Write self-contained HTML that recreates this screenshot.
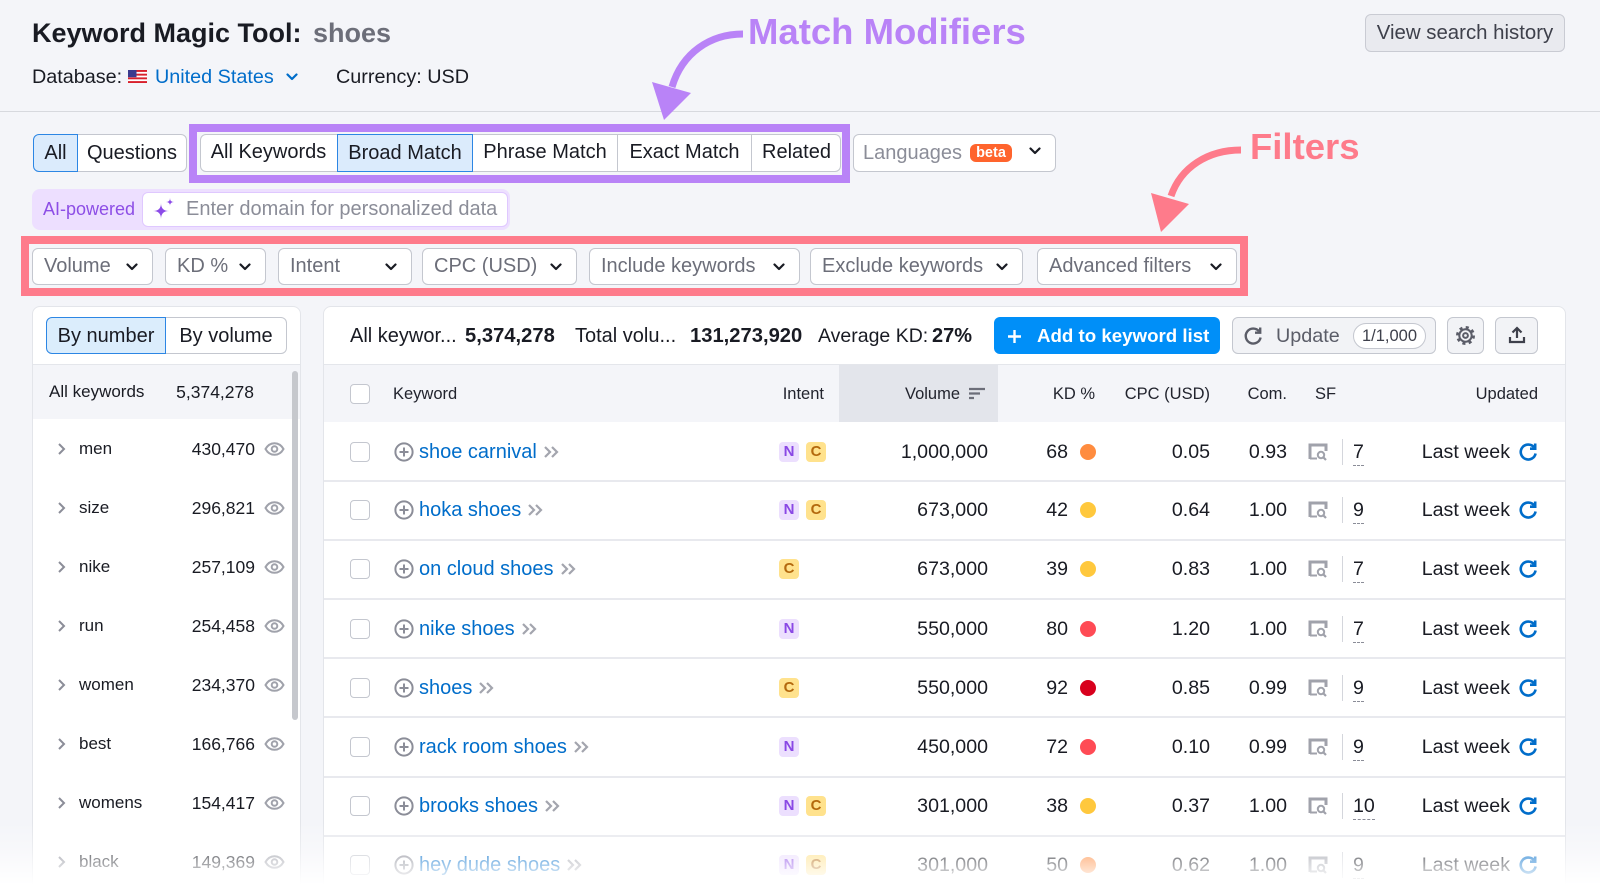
<!DOCTYPE html>
<html><head><meta charset="utf-8"><title>Keyword Magic Tool</title>
<style>
*{box-sizing:border-box;margin:0;padding:0}
html,body{width:1600px;height:892px;overflow:hidden}
body{position:relative;background:#f4f5f9;font-family:"Liberation Sans",Arial,sans-serif;color:#191b23}
.a{position:absolute;white-space:nowrap}
.t{position:absolute;white-space:nowrap;height:30px;line-height:30px}
.r{text-align:right}
.f{position:absolute;top:248px;height:37px;background:#fff;border:1px solid #c4c7cf;border-radius:6px;font-size:20px;color:#6c6e79;line-height:35px;padding-left:11px;white-space:nowrap}
.f svg{position:absolute;right:14px;top:14px}
.seg{position:absolute;top:134px;height:38px;line-height:36px;font-size:20px;text-align:center;white-space:nowrap}
.row{position:absolute;left:0;width:1600px;height:60px;font-size:19.6px}
.lrow{position:absolute;left:0;width:310px;height:60px}
.cb{position:absolute;left:350px;top:20px;width:20px;height:20px;border:1px solid #c4c7cf;border-radius:4px;background:#fff}
.pl{position:absolute;left:394px;top:20px}
.kw{left:419px;top:15px;color:#006dca;font-size:20px}
.kw svg{margin-left:6px;vertical-align:-1px}
.bd{position:absolute;top:20px;width:20px;height:20px;border-radius:4px;font-size:15px;font-weight:bold;text-align:center;line-height:20px}
.bn{background:#ecdffe;color:#8a48e5}
.bc{background:#ffe28d;color:#b4690e}
.vol{left:868px;width:120px;top:15px}
.kd{left:1018px;width:50px;top:15px}
.dot{position:absolute;left:1080px;top:22px;width:16px;height:16px;border-radius:50%}
.cpc{left:1140px;width:70px;top:15px}
.com{left:1217px;width:70px;top:15px}
.sfi{position:absolute;left:1308px;top:21px}
.sep{position:absolute;left:1342px;top:17px;width:1px;height:26px;background:#d4d6dc}
.sfn{position:absolute;left:1353px;top:18px;height:26px;line-height:24px;border-bottom:1px dashed #8b8d98}
.lw{left:1390px;width:120px;top:15px}
.rf{position:absolute;left:1518px;top:20px}
.hl{position:absolute;left:324px;width:1241px;height:2px;background:#e8e9ee}
.lch{position:absolute;left:57px;top:23px}
.llab{left:79px;top:15px;font-size:17px}
.lnum{left:145px;width:110px;top:15px;font-size:17.5px}
.eye{position:absolute;left:264px;top:23px}
.hd{position:absolute;top:379px;height:30px;line-height:30px;font-size:16.5px;white-space:nowrap;color:#22242e}
</style></head><body>

<!-- Header -->
<div class="a" style="left:32px;top:13px;height:40px;line-height:40px;font-size:27px;font-weight:bold;">Keyword Magic Tool:</div>
<div class="a" style="left:313px;top:13px;height:40px;line-height:40px;font-size:27px;font-weight:bold;color:#6c6e79;">shoes</div>

<div class="t" style="left:32px;top:62px;font-size:19.8px;">Database:</div>
<svg class="a" style="left:128px;top:70px" width="19" height="13" viewBox="0 0 19 13">
<rect width="19" height="13" fill="#fff"/>
<rect y="0" width="19" height="1.9" fill="#d8202c"/><rect y="3.7" width="19" height="1.9" fill="#d8202c"/><rect y="7.4" width="19" height="1.9" fill="#d8202c"/><rect y="11.1" width="19" height="1.9" fill="#d8202c"/>
<rect width="8.5" height="7.2" fill="#3c3b8e"/></svg>
<div class="t" style="left:155px;top:62px;font-size:19.8px;color:#006dca;">United States</div>
<svg class="a" style="left:286px;top:73px" width="12" height="8" viewBox="0 0 12 8"><path d="M1.5 1.5 L6 6 L10.5 1.5" fill="none" stroke="#006dca" stroke-width="2.2" stroke-linecap="round" stroke-linejoin="round"/></svg>
<div class="t" style="left:336px;top:62px;font-size:19.8px;">Currency: USD</div>

<div class="a" style="left:1365px;top:14px;width:200px;height:38px;background:#e9eaef;border:1px solid #c9cbd3;border-radius:6px;text-align:center;line-height:36px;font-size:20.4px;color:#3e404b;">View search history</div>

<div class="a" style="left:0;top:111px;width:1600px;height:1px;background:#d7d9de;"></div>

<!-- Tabs row -->
<div class="seg" style="left:33px;width:45px;background:#dbebfc;border:1px solid #2c86e4;border-radius:6px 0 0 6px;">All</div>
<div class="seg" style="left:78px;width:109px;background:#fff;border:1px solid #c4c7cf;border-left:none;border-radius:0 6px 6px 0;">Questions</div>

<div class="a" style="left:189px;top:124px;width:661px;height:59px;border:8px solid #b983f7;"></div>
<div class="seg" style="left:200px;width:641px;background:#fff;border:1px solid #c4c7cf;border-radius:6px;"></div>
<div class="seg" style="left:200px;width:137px;">All Keywords</div>
<div class="seg" style="left:337px;width:136px;background:#dbebfc;border:1px solid #2c86e4;">Broad Match</div>
<div class="seg" style="left:473px;width:144px;">Phrase Match</div>
<div class="a" style="left:617px;top:135px;width:1px;height:36px;background:#c4c7cf;"></div>
<div class="seg" style="left:618px;width:133px;">Exact Match</div>
<div class="a" style="left:751px;top:135px;width:1px;height:36px;background:#c4c7cf;"></div>
<div class="seg" style="left:752px;width:89px;">Related</div>

<div class="seg" style="left:853px;width:203px;background:#fff;border:1px solid #c4c7cf;border-radius:6px;"></div>
<div class="t" style="left:863px;top:138px;font-size:20px;color:#8b8d98;">Languages</div>
<div class="a" style="left:970px;top:144px;width:42px;height:18px;background:#ff642d;border-radius:6px;color:#fff;font-weight:bold;font-size:14.5px;line-height:18px;text-align:center;">beta</div>
<svg class="a" style="left:1029px;top:147px" width="12" height="8" viewBox="0 0 12 8"><path d="M1.5 1.5 L6 6 L10.5 1.5" fill="none" stroke="#191b23" stroke-width="2.2" stroke-linecap="round" stroke-linejoin="round"/></svg>

<!-- AI row -->
<div class="a" style="left:32px;top:189px;width:478px;height:41px;background:#eddfff;border-radius:8px;"></div>
<div class="t" style="left:43px;top:194px;font-size:18px;color:#8d4ee6;">AI-powered</div>
<div class="a" style="left:142px;top:192px;width:366px;height:35px;background:#fff;border:1px solid #dfc8ff;border-radius:6px;"></div>
<svg class="a" style="left:152px;top:197px" width="24" height="24" viewBox="0 0 24 24">
<path d="M9 6 Q9 14 17 14 Q9 14 9 22 Q9 14 1 14 Q9 14 9 6Z" fill="#8c4be8"/>
<path d="M18 1 Q18 5 22 5 Q18 5 18 9 Q18 5 14 5 Q18 5 18 1Z" fill="#8c4be8"/></svg>
<div class="t" style="left:186px;top:194px;font-size:20px;color:#8b8d98;">Enter domain for personalized data</div>

<!-- Filters -->
<div class="a" style="left:21px;top:236px;width:1227px;height:60px;border:8px solid #fe7b8b;"></div>
<div class="f" style="left:32px;width:121px;">Volume<svg width="12" height="8" viewBox="0 0 12 8"><path d="M1.5 1.5 L6 6 L10.5 1.5" fill="none" stroke="#191b23" stroke-width="2.2" stroke-linecap="round" stroke-linejoin="round"/></svg></div>
<div class="f" style="left:165px;width:101px;">KD %<svg width="12" height="8" viewBox="0 0 12 8"><path d="M1.5 1.5 L6 6 L10.5 1.5" fill="none" stroke="#191b23" stroke-width="2.2" stroke-linecap="round" stroke-linejoin="round"/></svg></div>
<div class="f" style="left:278px;width:134px;">Intent<svg width="12" height="8" viewBox="0 0 12 8"><path d="M1.5 1.5 L6 6 L10.5 1.5" fill="none" stroke="#191b23" stroke-width="2.2" stroke-linecap="round" stroke-linejoin="round"/></svg></div>
<div class="f" style="left:422px;width:155px;">CPC (USD)<svg width="12" height="8" viewBox="0 0 12 8"><path d="M1.5 1.5 L6 6 L10.5 1.5" fill="none" stroke="#191b23" stroke-width="2.2" stroke-linecap="round" stroke-linejoin="round"/></svg></div>
<div class="f" style="left:589px;width:211px;">Include keywords<svg width="12" height="8" viewBox="0 0 12 8"><path d="M1.5 1.5 L6 6 L10.5 1.5" fill="none" stroke="#191b23" stroke-width="2.2" stroke-linecap="round" stroke-linejoin="round"/></svg></div>
<div class="f" style="left:810px;width:213px;">Exclude keywords<svg width="12" height="8" viewBox="0 0 12 8"><path d="M1.5 1.5 L6 6 L10.5 1.5" fill="none" stroke="#191b23" stroke-width="2.2" stroke-linecap="round" stroke-linejoin="round"/></svg></div>
<div class="f" style="left:1037px;width:200px;">Advanced filters<svg width="12" height="8" viewBox="0 0 12 8"><path d="M1.5 1.5 L6 6 L10.5 1.5" fill="none" stroke="#191b23" stroke-width="2.2" stroke-linecap="round" stroke-linejoin="round"/></svg></div>

<!-- Annotations -->
<div class="a" style="left:748px;top:12px;height:40px;line-height:40px;font-size:36.5px;font-weight:bold;color:#b983f7;">Match Modifiers</div>
<div class="a" style="left:1250px;top:127px;height:40px;line-height:40px;font-size:36.5px;font-weight:bold;color:#fe7b8b;">Filters</div>
<svg class="a" style="left:0;top:0" width="1600" height="300" viewBox="0 0 1600 300">
<path d="M743 34 C710 34 682 53 672 87" fill="none" stroke="#b983f7" stroke-width="7"/>
<path d="M652 82 L691 93 L664 120 Z" fill="#b983f7"/>
<path d="M1241 150 C1208 150 1181 167 1171 196" fill="none" stroke="#fe7b8b" stroke-width="7"/>
<path d="M1151 193 L1189 204 L1161 232 Z" fill="#fe7b8b"/>
</svg>

<!-- Left panel -->
<div class="a" style="left:32px;top:306px;width:269px;height:620px;background:#fff;border:1px solid #e3e5ea;border-radius:8px;"></div>
<div class="seg" style="left:46px;top:317px;width:120px;height:37px;line-height:36px;background:#dbedfc;border:1px solid #2c86e4;border-radius:6px 0 0 6px;">By number</div>
<div class="seg" style="left:166px;top:317px;width:121px;height:37px;line-height:36px;background:#fff;border:1px solid #c4c7cf;border-left:none;border-radius:0 6px 6px 0;">By volume</div>
<div class="a" style="left:33px;top:364px;width:267px;height:55px;background:#f4f5f9;border-top:1px solid #e4e6eb;"></div>
<div class="t" style="left:49px;top:377px;font-size:17px;">All keywords</div>
<div class="t r" style="left:144px;width:110px;top:377px;font-size:17.5px;">5,374,278</div>
<div class="a" style="left:292px;top:371px;width:6px;height:349px;background:#c6c8cd;border-radius:4px;"></div>

<div class="lrow" style="top:419px;"><svg class="lch" width="9" height="14" viewBox="0 0 9 14"><path d="M2 2l5 5-5 5" fill="none" stroke="#8b8d98" stroke-width="2"/></svg><div class="t llab">men</div><div class="t r lnum">430,470</div><svg class="eye" width="21" height="14" viewBox="0 0 21 14"><path d="M1.5 7C4 2.5 7 1.2 10.5 1.2S17 2.5 19.5 7C17 11.5 14 12.8 10.5 12.8S4 11.5 1.5 7Z" fill="none" stroke="#a0a2ab" stroke-width="2"/><circle cx="10.5" cy="7" r="2.8" fill="none" stroke="#a0a2ab" stroke-width="2"/></svg></div>
<div class="lrow" style="top:478px;"><svg class="lch" width="9" height="14" viewBox="0 0 9 14"><path d="M2 2l5 5-5 5" fill="none" stroke="#8b8d98" stroke-width="2"/></svg><div class="t llab">size</div><div class="t r lnum">296,821</div><svg class="eye" width="21" height="14" viewBox="0 0 21 14"><path d="M1.5 7C4 2.5 7 1.2 10.5 1.2S17 2.5 19.5 7C17 11.5 14 12.8 10.5 12.8S4 11.5 1.5 7Z" fill="none" stroke="#a0a2ab" stroke-width="2"/><circle cx="10.5" cy="7" r="2.8" fill="none" stroke="#a0a2ab" stroke-width="2"/></svg></div>
<div class="lrow" style="top:537px;"><svg class="lch" width="9" height="14" viewBox="0 0 9 14"><path d="M2 2l5 5-5 5" fill="none" stroke="#8b8d98" stroke-width="2"/></svg><div class="t llab">nike</div><div class="t r lnum">257,109</div><svg class="eye" width="21" height="14" viewBox="0 0 21 14"><path d="M1.5 7C4 2.5 7 1.2 10.5 1.2S17 2.5 19.5 7C17 11.5 14 12.8 10.5 12.8S4 11.5 1.5 7Z" fill="none" stroke="#a0a2ab" stroke-width="2"/><circle cx="10.5" cy="7" r="2.8" fill="none" stroke="#a0a2ab" stroke-width="2"/></svg></div>
<div class="lrow" style="top:596px;"><svg class="lch" width="9" height="14" viewBox="0 0 9 14"><path d="M2 2l5 5-5 5" fill="none" stroke="#8b8d98" stroke-width="2"/></svg><div class="t llab">run</div><div class="t r lnum">254,458</div><svg class="eye" width="21" height="14" viewBox="0 0 21 14"><path d="M1.5 7C4 2.5 7 1.2 10.5 1.2S17 2.5 19.5 7C17 11.5 14 12.8 10.5 12.8S4 11.5 1.5 7Z" fill="none" stroke="#a0a2ab" stroke-width="2"/><circle cx="10.5" cy="7" r="2.8" fill="none" stroke="#a0a2ab" stroke-width="2"/></svg></div>
<div class="lrow" style="top:655px;"><svg class="lch" width="9" height="14" viewBox="0 0 9 14"><path d="M2 2l5 5-5 5" fill="none" stroke="#8b8d98" stroke-width="2"/></svg><div class="t llab">women</div><div class="t r lnum">234,370</div><svg class="eye" width="21" height="14" viewBox="0 0 21 14"><path d="M1.5 7C4 2.5 7 1.2 10.5 1.2S17 2.5 19.5 7C17 11.5 14 12.8 10.5 12.8S4 11.5 1.5 7Z" fill="none" stroke="#a0a2ab" stroke-width="2"/><circle cx="10.5" cy="7" r="2.8" fill="none" stroke="#a0a2ab" stroke-width="2"/></svg></div>
<div class="lrow" style="top:714px;"><svg class="lch" width="9" height="14" viewBox="0 0 9 14"><path d="M2 2l5 5-5 5" fill="none" stroke="#8b8d98" stroke-width="2"/></svg><div class="t llab">best</div><div class="t r lnum">166,766</div><svg class="eye" width="21" height="14" viewBox="0 0 21 14"><path d="M1.5 7C4 2.5 7 1.2 10.5 1.2S17 2.5 19.5 7C17 11.5 14 12.8 10.5 12.8S4 11.5 1.5 7Z" fill="none" stroke="#a0a2ab" stroke-width="2"/><circle cx="10.5" cy="7" r="2.8" fill="none" stroke="#a0a2ab" stroke-width="2"/></svg></div>
<div class="lrow" style="top:773px;"><svg class="lch" width="9" height="14" viewBox="0 0 9 14"><path d="M2 2l5 5-5 5" fill="none" stroke="#8b8d98" stroke-width="2"/></svg><div class="t llab">womens</div><div class="t r lnum">154,417</div><svg class="eye" width="21" height="14" viewBox="0 0 21 14"><path d="M1.5 7C4 2.5 7 1.2 10.5 1.2S17 2.5 19.5 7C17 11.5 14 12.8 10.5 12.8S4 11.5 1.5 7Z" fill="none" stroke="#a0a2ab" stroke-width="2"/><circle cx="10.5" cy="7" r="2.8" fill="none" stroke="#a0a2ab" stroke-width="2"/></svg></div>
<div class="lrow" style="top:832px;"><svg class="lch" width="9" height="14" viewBox="0 0 9 14"><path d="M2 2l5 5-5 5" fill="none" stroke="#8b8d98" stroke-width="2"/></svg><div class="t llab">black</div><div class="t r lnum">149,369</div><svg class="eye" width="21" height="14" viewBox="0 0 21 14"><path d="M1.5 7C4 2.5 7 1.2 10.5 1.2S17 2.5 19.5 7C17 11.5 14 12.8 10.5 12.8S4 11.5 1.5 7Z" fill="none" stroke="#a0a2ab" stroke-width="2"/><circle cx="10.5" cy="7" r="2.8" fill="none" stroke="#a0a2ab" stroke-width="2"/></svg></div>

<!-- Right panel -->
<div class="a" style="left:323px;top:306px;width:1243px;height:620px;background:#fff;border:1px solid #e3e5ea;border-radius:8px;"></div>
<div class="t" style="left:350px;top:321px;font-size:20px;">All keywor...</div>
<div class="t" style="left:465px;top:321px;font-size:20.2px;font-weight:bold;">5,374,278</div>
<div class="t" style="left:575px;top:321px;font-size:20px;">Total volu...</div>
<div class="t" style="left:690px;top:321px;font-size:20.2px;font-weight:bold;">131,273,920</div>
<div class="t" style="left:818px;top:321px;font-size:19.5px;">Average KD:</div>
<div class="t" style="left:932px;top:321px;font-size:20px;font-weight:bold;">27%</div>

<div class="a" style="left:994px;top:317px;width:226px;height:37px;background:#008ff8;border-radius:6px;"></div>
<svg class="a" style="left:1007px;top:329px" width="15" height="15" viewBox="0 0 15 15"><path d="M7.5 1v13M1 7.5h13" stroke="#fff" stroke-width="2.4"/></svg>
<div class="t" style="left:1037px;top:321px;font-size:18.7px;font-weight:bold;color:#fff;">Add to keyword list</div>

<div class="a" style="left:1232px;top:317px;width:204px;height:37px;background:#f2f3f6;border:1px solid #c4c7cf;border-radius:6px;"></div>
<svg class="a" style="left:1243px;top:326px" width="20" height="20" viewBox="0 0 20 20"><path d="M16 5.2A7.5 7.5 0 1 0 17.6 11.5" fill="none" stroke="#5b5d68" stroke-width="2.4"/><path d="M17.2 1.5v5.2h-5.2" fill="none" stroke="#5b5d68" stroke-width="2.4"/></svg>
<div class="t" style="left:1276px;top:321px;font-size:19.8px;color:#5b5d68;">Update</div>
<div class="a" style="left:1353px;top:323px;width:73px;height:26px;background:#fff;border:1px solid #c4c7cf;border-radius:13px;text-align:center;line-height:24px;font-size:16.5px;color:#3e404b;">1/1,000</div>

<div class="a" style="left:1447px;top:317px;width:37px;height:37px;background:#f2f3f6;border:1px solid #c4c7cf;border-radius:6px;"></div>
<svg class="a" style="left:1455px;top:325px" width="21" height="21" viewBox="0 0 21 21"><circle cx="10.5" cy="10.5" r="8" fill="none" stroke="#5b5d68" stroke-width="3" stroke-dasharray="3 3.28"/><circle cx="10.5" cy="10.5" r="6.2" fill="none" stroke="#5b5d68" stroke-width="2"/><circle cx="10.5" cy="10.5" r="2.4" fill="none" stroke="#5b5d68" stroke-width="2"/></svg>
<div class="a" style="left:1495px;top:317px;width:43px;height:37px;background:#f2f3f6;border:1px solid #c4c7cf;border-radius:6px;"></div>
<svg class="a" style="left:1507px;top:325px" width="20" height="20" viewBox="0 0 20 20"><path d="M10 13V3M5.5 7.5L10 3l4.5 4.5" fill="none" stroke="#3e404b" stroke-width="2.2"/><path d="M3 12v5h14v-5" fill="none" stroke="#3e404b" stroke-width="2.2"/></svg>

<!-- Table header -->
<div class="a" style="left:324px;top:364px;width:1241px;height:58px;background:#f4f5f9;border-top:1px solid #e4e6eb;"></div>
<div class="a" style="left:839px;top:365px;width:159px;height:57px;background:#e3e5eb;"></div>
<div class="a" style="left:350px;top:384px;width:20px;height:20px;border:1px solid #c4c7cf;border-radius:4px;background:#fff;"></div>
<div class="hd" style="left:393px;">Keyword</div>
<div class="hd r" style="left:724px;width:100px;">Intent</div>
<div class="hd" style="left:905px;">Volume</div>
<svg class="a" style="left:969px;top:387px" width="16" height="13" viewBox="0 0 16 13"><path d="M0 2h16M0 6.5h11M0 11h5" stroke="#6c6e79" stroke-width="2.2"/></svg>
<div class="hd r" style="left:995px;width:100px;">KD %</div>
<div class="hd r" style="left:1110px;width:100px;">CPC (USD)</div>
<div class="hd r" style="left:1217px;width:70px;">Com.</div>
<div class="hd" style="left:1315px;">SF</div>
<div class="hd r" style="left:1438px;width:100px;">Updated</div>

<!-- Row separators -->
<div class="hl" style="top:480px;"></div>
<div class="hl" style="top:539px;"></div>
<div class="hl" style="top:598px;"></div>
<div class="hl" style="top:657px;"></div>
<div class="hl" style="top:716px;"></div>
<div class="hl" style="top:776px;"></div>
<div class="hl" style="top:835px;"></div>

<!-- Rows -->
<div class="row" style="top:422px;"><div class="cb"></div><svg class="pl" width="20" height="20" viewBox="0 0 20 20"><circle cx="10" cy="10" r="8.6" fill="none" stroke="#8b8d98" stroke-width="2"/><path d="M10 5.5v9M5.5 10h9" stroke="#8b8d98" stroke-width="2"/></svg><div class="t kw">shoe carnival<svg width="17" height="14" viewBox="0 0 17 14"><path d="M2 2l5 5-5 5M9 2l5 5-5 5" fill="none" stroke="#a3a5ae" stroke-width="2.2"/></svg></div><div class="bd bn" style="left:779px;">N</div><div class="bd bc" style="left:806px;">C</div><div class="t r vol">1,000,000</div><div class="t r kd">68</div><div class="dot" style="background:#ff8c3f;"></div><div class="t r cpc">0.05</div><div class="t r com">0.93</div><svg class="sfi" width="20" height="18" viewBox="0 0 20 18"><path d="M2 16V2h16v6" fill="none" stroke="#a0a2ab" stroke-width="3"/><path d="M2 15.5h7" stroke="#a0a2ab" stroke-width="2"/><circle cx="13" cy="12" r="3.2" fill="none" stroke="#a0a2ab" stroke-width="2"/><path d="M15.3 14.3l2.7 2.7" stroke="#a0a2ab" stroke-width="2.2"/></svg><div class="sep"></div><div class="sfn">7</div><div class="t r lw">Last week</div><svg class="rf" width="20" height="20" viewBox="0 0 20 20"><path d="M16 5.2A7.5 7.5 0 1 0 17.6 11.5" fill="none" stroke="#006dca" stroke-width="2.6"/><path d="M17.2 1.5v5.2h-5.2" fill="none" stroke="#006dca" stroke-width="2.6"/></svg></div>

<div class="row" style="top:480px;"><div class="cb"></div><svg class="pl" width="20" height="20" viewBox="0 0 20 20"><circle cx="10" cy="10" r="8.6" fill="none" stroke="#8b8d98" stroke-width="2"/><path d="M10 5.5v9M5.5 10h9" stroke="#8b8d98" stroke-width="2"/></svg><div class="t kw">hoka shoes<svg width="17" height="14" viewBox="0 0 17 14"><path d="M2 2l5 5-5 5M9 2l5 5-5 5" fill="none" stroke="#a3a5ae" stroke-width="2.2"/></svg></div><div class="bd bn" style="left:779px;">N</div><div class="bd bc" style="left:806px;">C</div><div class="t r vol">673,000</div><div class="t r kd">42</div><div class="dot" style="background:#ffc83d;"></div><div class="t r cpc">0.64</div><div class="t r com">1.00</div><svg class="sfi" width="20" height="18" viewBox="0 0 20 18"><path d="M2 16V2h16v6" fill="none" stroke="#a0a2ab" stroke-width="3"/><path d="M2 15.5h7" stroke="#a0a2ab" stroke-width="2"/><circle cx="13" cy="12" r="3.2" fill="none" stroke="#a0a2ab" stroke-width="2"/><path d="M15.3 14.3l2.7 2.7" stroke="#a0a2ab" stroke-width="2.2"/></svg><div class="sep"></div><div class="sfn">9</div><div class="t r lw">Last week</div><svg class="rf" width="20" height="20" viewBox="0 0 20 20"><path d="M16 5.2A7.5 7.5 0 1 0 17.6 11.5" fill="none" stroke="#006dca" stroke-width="2.6"/><path d="M17.2 1.5v5.2h-5.2" fill="none" stroke="#006dca" stroke-width="2.6"/></svg></div>

<div class="row" style="top:539px;"><div class="cb"></div><svg class="pl" width="20" height="20" viewBox="0 0 20 20"><circle cx="10" cy="10" r="8.6" fill="none" stroke="#8b8d98" stroke-width="2"/><path d="M10 5.5v9M5.5 10h9" stroke="#8b8d98" stroke-width="2"/></svg><div class="t kw">on cloud shoes<svg width="17" height="14" viewBox="0 0 17 14"><path d="M2 2l5 5-5 5M9 2l5 5-5 5" fill="none" stroke="#a3a5ae" stroke-width="2.2"/></svg></div><div class="bd bc" style="left:779px;">C</div><div class="t r vol">673,000</div><div class="t r kd">39</div><div class="dot" style="background:#ffc83d;"></div><div class="t r cpc">0.83</div><div class="t r com">1.00</div><svg class="sfi" width="20" height="18" viewBox="0 0 20 18"><path d="M2 16V2h16v6" fill="none" stroke="#a0a2ab" stroke-width="3"/><path d="M2 15.5h7" stroke="#a0a2ab" stroke-width="2"/><circle cx="13" cy="12" r="3.2" fill="none" stroke="#a0a2ab" stroke-width="2"/><path d="M15.3 14.3l2.7 2.7" stroke="#a0a2ab" stroke-width="2.2"/></svg><div class="sep"></div><div class="sfn">7</div><div class="t r lw">Last week</div><svg class="rf" width="20" height="20" viewBox="0 0 20 20"><path d="M16 5.2A7.5 7.5 0 1 0 17.6 11.5" fill="none" stroke="#006dca" stroke-width="2.6"/><path d="M17.2 1.5v5.2h-5.2" fill="none" stroke="#006dca" stroke-width="2.6"/></svg></div>

<div class="row" style="top:599px;"><div class="cb"></div><svg class="pl" width="20" height="20" viewBox="0 0 20 20"><circle cx="10" cy="10" r="8.6" fill="none" stroke="#8b8d98" stroke-width="2"/><path d="M10 5.5v9M5.5 10h9" stroke="#8b8d98" stroke-width="2"/></svg><div class="t kw">nike shoes<svg width="17" height="14" viewBox="0 0 17 14"><path d="M2 2l5 5-5 5M9 2l5 5-5 5" fill="none" stroke="#a3a5ae" stroke-width="2.2"/></svg></div><div class="bd bn" style="left:779px;">N</div><div class="t r vol">550,000</div><div class="t r kd">80</div><div class="dot" style="background:#ff4b55;"></div><div class="t r cpc">1.20</div><div class="t r com">1.00</div><svg class="sfi" width="20" height="18" viewBox="0 0 20 18"><path d="M2 16V2h16v6" fill="none" stroke="#a0a2ab" stroke-width="3"/><path d="M2 15.5h7" stroke="#a0a2ab" stroke-width="2"/><circle cx="13" cy="12" r="3.2" fill="none" stroke="#a0a2ab" stroke-width="2"/><path d="M15.3 14.3l2.7 2.7" stroke="#a0a2ab" stroke-width="2.2"/></svg><div class="sep"></div><div class="sfn">7</div><div class="t r lw">Last week</div><svg class="rf" width="20" height="20" viewBox="0 0 20 20"><path d="M16 5.2A7.5 7.5 0 1 0 17.6 11.5" fill="none" stroke="#006dca" stroke-width="2.6"/><path d="M17.2 1.5v5.2h-5.2" fill="none" stroke="#006dca" stroke-width="2.6"/></svg></div>

<div class="row" style="top:658px;"><div class="cb"></div><svg class="pl" width="20" height="20" viewBox="0 0 20 20"><circle cx="10" cy="10" r="8.6" fill="none" stroke="#8b8d98" stroke-width="2"/><path d="M10 5.5v9M5.5 10h9" stroke="#8b8d98" stroke-width="2"/></svg><div class="t kw">shoes<svg width="17" height="14" viewBox="0 0 17 14"><path d="M2 2l5 5-5 5M9 2l5 5-5 5" fill="none" stroke="#a3a5ae" stroke-width="2.2"/></svg></div><div class="bd bc" style="left:779px;">C</div><div class="t r vol">550,000</div><div class="t r kd">92</div><div class="dot" style="background:#d8001d;"></div><div class="t r cpc">0.85</div><div class="t r com">0.99</div><svg class="sfi" width="20" height="18" viewBox="0 0 20 18"><path d="M2 16V2h16v6" fill="none" stroke="#a0a2ab" stroke-width="3"/><path d="M2 15.5h7" stroke="#a0a2ab" stroke-width="2"/><circle cx="13" cy="12" r="3.2" fill="none" stroke="#a0a2ab" stroke-width="2"/><path d="M15.3 14.3l2.7 2.7" stroke="#a0a2ab" stroke-width="2.2"/></svg><div class="sep"></div><div class="sfn">9</div><div class="t r lw">Last week</div><svg class="rf" width="20" height="20" viewBox="0 0 20 20"><path d="M16 5.2A7.5 7.5 0 1 0 17.6 11.5" fill="none" stroke="#006dca" stroke-width="2.6"/><path d="M17.2 1.5v5.2h-5.2" fill="none" stroke="#006dca" stroke-width="2.6"/></svg></div>

<div class="row" style="top:717px;"><div class="cb"></div><svg class="pl" width="20" height="20" viewBox="0 0 20 20"><circle cx="10" cy="10" r="8.6" fill="none" stroke="#8b8d98" stroke-width="2"/><path d="M10 5.5v9M5.5 10h9" stroke="#8b8d98" stroke-width="2"/></svg><div class="t kw">rack room shoes<svg width="17" height="14" viewBox="0 0 17 14"><path d="M2 2l5 5-5 5M9 2l5 5-5 5" fill="none" stroke="#a3a5ae" stroke-width="2.2"/></svg></div><div class="bd bn" style="left:779px;">N</div><div class="t r vol">450,000</div><div class="t r kd">72</div><div class="dot" style="background:#ff4b55;"></div><div class="t r cpc">0.10</div><div class="t r com">0.99</div><svg class="sfi" width="20" height="18" viewBox="0 0 20 18"><path d="M2 16V2h16v6" fill="none" stroke="#a0a2ab" stroke-width="3"/><path d="M2 15.5h7" stroke="#a0a2ab" stroke-width="2"/><circle cx="13" cy="12" r="3.2" fill="none" stroke="#a0a2ab" stroke-width="2"/><path d="M15.3 14.3l2.7 2.7" stroke="#a0a2ab" stroke-width="2.2"/></svg><div class="sep"></div><div class="sfn">9</div><div class="t r lw">Last week</div><svg class="rf" width="20" height="20" viewBox="0 0 20 20"><path d="M16 5.2A7.5 7.5 0 1 0 17.6 11.5" fill="none" stroke="#006dca" stroke-width="2.6"/><path d="M17.2 1.5v5.2h-5.2" fill="none" stroke="#006dca" stroke-width="2.6"/></svg></div>

<div class="row" style="top:776px;"><div class="cb"></div><svg class="pl" width="20" height="20" viewBox="0 0 20 20"><circle cx="10" cy="10" r="8.6" fill="none" stroke="#8b8d98" stroke-width="2"/><path d="M10 5.5v9M5.5 10h9" stroke="#8b8d98" stroke-width="2"/></svg><div class="t kw">brooks shoes<svg width="17" height="14" viewBox="0 0 17 14"><path d="M2 2l5 5-5 5M9 2l5 5-5 5" fill="none" stroke="#a3a5ae" stroke-width="2.2"/></svg></div><div class="bd bn" style="left:779px;">N</div><div class="bd bc" style="left:806px;">C</div><div class="t r vol">301,000</div><div class="t r kd">38</div><div class="dot" style="background:#ffc83d;"></div><div class="t r cpc">0.37</div><div class="t r com">1.00</div><svg class="sfi" width="20" height="18" viewBox="0 0 20 18"><path d="M2 16V2h16v6" fill="none" stroke="#a0a2ab" stroke-width="3"/><path d="M2 15.5h7" stroke="#a0a2ab" stroke-width="2"/><circle cx="13" cy="12" r="3.2" fill="none" stroke="#a0a2ab" stroke-width="2"/><path d="M15.3 14.3l2.7 2.7" stroke="#a0a2ab" stroke-width="2.2"/></svg><div class="sep"></div><div class="sfn">10</div><div class="t r lw">Last week</div><svg class="rf" width="20" height="20" viewBox="0 0 20 20"><path d="M16 5.2A7.5 7.5 0 1 0 17.6 11.5" fill="none" stroke="#006dca" stroke-width="2.6"/><path d="M17.2 1.5v5.2h-5.2" fill="none" stroke="#006dca" stroke-width="2.6"/></svg></div>

<div class="row" style="top:835px;"><div class="cb"></div><svg class="pl" width="20" height="20" viewBox="0 0 20 20"><circle cx="10" cy="10" r="8.6" fill="none" stroke="#8b8d98" stroke-width="2"/><path d="M10 5.5v9M5.5 10h9" stroke="#8b8d98" stroke-width="2"/></svg><div class="t kw">hey dude shoes<svg width="17" height="14" viewBox="0 0 17 14"><path d="M2 2l5 5-5 5M9 2l5 5-5 5" fill="none" stroke="#a3a5ae" stroke-width="2.2"/></svg></div><div class="bd bn" style="left:779px;">N</div><div class="bd bc" style="left:806px;">C</div><div class="t r vol">301,000</div><div class="t r kd">50</div><div class="dot" style="background:#ff8c3f;"></div><div class="t r cpc">0.62</div><div class="t r com">1.00</div><svg class="sfi" width="20" height="18" viewBox="0 0 20 18"><path d="M2 16V2h16v6" fill="none" stroke="#a0a2ab" stroke-width="3"/><path d="M2 15.5h7" stroke="#a0a2ab" stroke-width="2"/><circle cx="13" cy="12" r="3.2" fill="none" stroke="#a0a2ab" stroke-width="2"/><path d="M15.3 14.3l2.7 2.7" stroke="#a0a2ab" stroke-width="2.2"/></svg><div class="sep"></div><div class="sfn">9</div><div class="t r lw">Last week</div><svg class="rf" width="20" height="20" viewBox="0 0 20 20"><path d="M16 5.2A7.5 7.5 0 1 0 17.6 11.5" fill="none" stroke="#006dca" stroke-width="2.6"/><path d="M17.2 1.5v5.2h-5.2" fill="none" stroke="#006dca" stroke-width="2.6"/></svg></div>

<!-- Bottom fade -->
<div class="a" style="left:0;top:822px;width:1600px;height:70px;background:linear-gradient(to bottom,rgba(255,255,255,0) 0px,rgba(255,255,255,0.35) 28px,rgba(255,255,255,0.72) 48px,#fff 63px,#fff 70px);"></div>

</body></html>
